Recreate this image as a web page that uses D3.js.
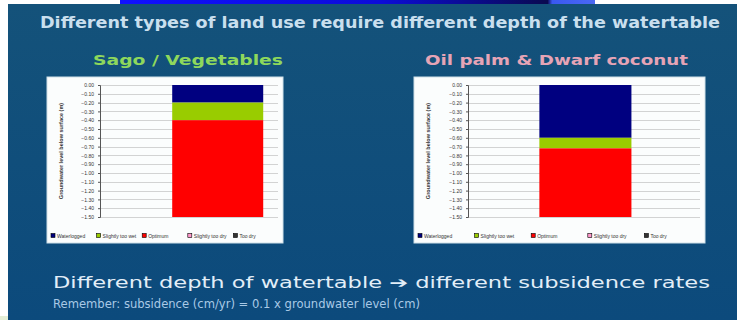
<!DOCTYPE html>
<html><head><meta charset="utf-8">
<script src="https://cdn.jsdelivr.net/npm/d3@7"></script>
<style>html,body{margin:0;padding:0;background:#fff;}svg{display:block;}</style>
</head><body>
<svg id="c" width="737" height="320"></svg>
<script>
// ---- data ----
const zones = ["Waterlogged", "Slightly too wet", "Optimum", "Slightly too dry", "Too dry"];
const zoneColors = ["#000080", "#99cc00", "#ff0000", "#ff99cc", "#333333"];
const leftValues = [0.20, 0.20, 1.10, 0, 0];   // thickness of each zone (m)
const rightValues = [0.60, 0.12, 0.78, 0, 0];
const yTicks = [0, -0.1, -0.2, -0.3, -0.4, -0.5, -0.6, -0.7, -0.8, -0.9, -1.0, -1.1, -1.2, -1.3, -1.4, -1.5];
const titleText = "Different types of land use require different depth of the watertable";
const leftTitle = "Sago / Vegetables";
const rightTitle = "Oil palm & Dwarf coconut";
const line1 = "Different depth of watertable \u2794 different subsidence rates";
const line2 = "Remember: subsidence (cm/yr) = 0.1 x groundwater level (cm)";
const yAxisTitle = "Groundwater level below surface (m)";

const svg = d3.select("#c");
const font = "Arial, 'Liberation Sans', sans-serif";
const wide = "'DejaVu Sans', Verdana, sans-serif";

// slide background
svg.append("rect").attr("x", 0).attr("y", 0).attr("width", 737).attr("height", 320).attr("fill", "#fff");
const defs = svg.append("defs");
const bg = defs.append("linearGradient").attr("id", "bgg").attr("x1", 0).attr("y1", 0).attr("x2", 0).attr("y2", 1);
bg.append("stop").attr("offset", 0).attr("stop-color", "#14527a");
bg.append("stop").attr("offset", 1).attr("stop-color", "#0c4a7c");
svg.append("rect").attr("x", 8).attr("y", 4).attr("width", 729).attr("height", 316).attr("fill", "url(#bgg)");
svg.append("rect").attr("x", 0).attr("y", 316).attr("width", 8).attr("height", 4).attr("fill", "#e4eed6");
// top strip
const tg = defs.append("linearGradient").attr("id", "tg");
tg.append("stop").attr("offset", 0).attr("stop-color", "#1010ff");
tg.append("stop").attr("offset", 0.55).attr("stop-color", "#0c0cd8");
tg.append("stop").attr("offset", 0.9).attr("stop-color", "#0a0a50");
tg.append("stop").attr("offset", 0.91).attr("stop-color", "#3a58f0");
tg.append("stop").attr("offset", 1).attr("stop-color", "#4a68f4");
svg.append("rect").attr("x", 120).attr("y", 0).attr("width", 475).attr("height", 4).attr("fill", "url(#tg)");

function addText(t, x, y, size, fill, len, weight) {
  svg.append("text").attr("x", x).attr("y", y)
    .attr("font-family", wide).attr("font-size", size).attr("font-weight", weight)
    .attr("fill", fill).attr("textLength", len).attr("lengthAdjust", "spacingAndGlyphs").text(t);
}
addText(titleText, 40, 28, 16.5, "#c9dfee", 680, "bold");
addText(leftTitle, 93, 65, 14, "#8ed85c", 190, "bold");
addText(rightTitle, 425, 65, 14, "#e6a4b6", 263, "bold");
addText(line1, 53, 288, 15.5, "#e2eef8", 657, "normal");
addText(line2, 53, 308, 12, "#a9c9e6", 367, "normal");

function drawChart(cfg, values) {
  const g = svg.append("g");
  g.append("rect").attr("x", cfg.px).attr("y", cfg.py).attr("width", cfg.pw).attr("height", cfg.ph)
    .attr("fill", "#fbfdfd").attr("stroke", "#cfe0e8").attr("stroke-width", 1);
  const y = d3.scaleLinear().domain([0, -1.5]).range([cfg.top, cfg.bottom]);
  const x = d3.scaleBand().domain([cfg.cat]).range([cfg.left, cfg.right])
    .paddingInner(0).paddingOuter(cfg.po).align(cfg.align);
  // grid
  g.append("g").selectAll("line").data(yTicks).join("line")
    .attr("x1", cfg.left).attr("x2", cfg.right)
    .attr("y1", d => Math.round(y(d)) + 0.5).attr("y2", d => Math.round(y(d)) + 0.5)
    .attr("stroke", "#c8c8c8").attr("stroke-width", 0.8);
  // axis
  const ax = g.append("g").attr("transform", `translate(${cfg.left},0)`)
    .call(d3.axisLeft(y).tickValues(yTicks).tickFormat(d3.format(".2f")).tickSize(2).tickPadding(4));
  ax.select(".domain").attr("stroke", "#555");
  ax.selectAll(".tick line").attr("stroke", "#555");
  ax.selectAll("text").attr("font-family", font).attr("font-size", 5).attr("fill", "#333");
  // stacked bar
  let acc = 0;
  const segs = values.map((v, i) => { const s = { i, y0: -acc, y1: -(acc + v) }; acc += v; return s; })
    .filter(s => s.y0 !== s.y1);
  g.append("g").selectAll("rect").data(segs).join("rect")
    .attr("x", x(cfg.cat)).attr("width", x.bandwidth())
    .attr("y", d => y(d.y0)).attr("height", d => y(d.y1) - y(d.y0))
    .attr("fill", d => zoneColors[d.i]);
  // y title
  g.append("text").attr("transform", `translate(${cfg.tx},${(cfg.top + cfg.bottom) / 2}) rotate(-90)`)
    .attr("text-anchor", "middle").attr("font-family", font).attr("font-size", 5.5).attr("font-weight", "bold")
    .attr("fill", "#333").text(yAxisTitle);
  // legend
  const lg = g.append("g");
  const lx = d3.scaleBand().domain(zones).range([cfg.px + 4, cfg.px + cfg.pw - 4]);
  lg.selectAll("rect").data(zones).join("rect")
    .attr("x", d => lx(d)).attr("y", cfg.ly - 2.5).attr("width", 4).attr("height", 4)
    .attr("fill", (d, i) => zoneColors[i]).attr("stroke", "#000").attr("stroke-width", 0.6);
  lg.selectAll("text").data(zones).join("text")
    .attr("x", d => lx(d) + 6).attr("y", cfg.ly + 1.6)
    .attr("font-family", font).attr("font-size", 5).attr("fill", "#333").text(d => d);
}

drawChart({ px: 47, py: 77, pw: 236, ph: 166, left: 100, right: 278, top: 85, bottom: 217,
  cat: leftTitle, po: 0.478, align: 0.83, tx: 63, ly: 236 }, leftValues);
drawChart({ px: 414, py: 77, pw: 291, ph: 166, left: 468, right: 700, top: 85, bottom: 217,
  cat: rightTitle, po: 0.76, align: 0.51, tx: 430, ly: 236 }, rightValues);
</script>
</body></html>
